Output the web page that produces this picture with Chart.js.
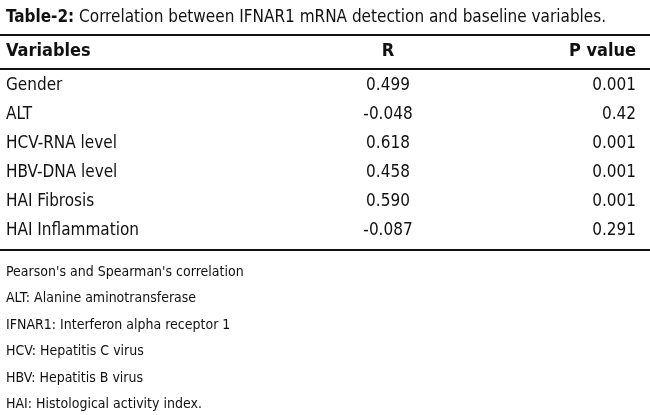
<!DOCTYPE html>
<html>
<head>
<meta charset="utf-8">
<script src="https://cdn.jsdelivr.net/npm/chart.js@4"></script>
<style>
  body { margin: 0; background: #fff; font-family: "Liberation Sans Narrow", "DejaVu Sans Condensed", sans-serif; color: #111; }
  #wrap { position: relative; width: 650px; height: 415px; }
  canvas { position: absolute; left: 0; top: 0; }
  .title { position: absolute; left: 6px; top: 6px; font-size: 17px; white-space: nowrap; }
  .notes { position: absolute; left: 6px; top: 258px; font-size: 14px; line-height: 26.4px; }
</style>
</head>
<body>
<div id="wrap">
  <canvas id="chart" width="650" height="415"></canvas>
  <div class="title"><b>Table-2:</b> Correlation between IFNAR1 mRNA detection and baseline variables.</div>
  <div class="notes">
    Pearson's and Spearman's correlation<br>
    ALT: Alanine aminotransferase<br>
    IFNAR1: Interferon alpha receptor 1<br>
    HCV: Hepatitis C virus<br>
    HBV: Hepatitis B virus<br>
    HAI: Histological activity index.
  </div>
</div>
<script>
const variables = ["Gender", "ALT", "HCV-RNA level", "HBV-DNA level", "HAI Fibrosis", "HAI Inflammation"];
const rValues = ["0.499", "-0.048", "0.618", "0.458", "0.590", "-0.087"];
const pValues = ["0.001", "0.42", "0.001", "0.001", "0.001", "0.291"];
const headers = ["Variables", "R", "P value"];

const font = '"Liberation Sans Narrow", "DejaVu Sans Condensed", sans-serif';

// Table cells drawn at the category scale's row positions
const tablePlugin = {
  id: "table",
  afterDraw(chart) {
    const { ctx } = chart;
    const y = chart.scales.y;
    ctx.save();
    ctx.fillStyle = "#111";
    ctx.textBaseline = "middle";
    ctx.font = "17px " + font;
    variables.forEach((v, i) => {
      const py = y.getPixelForValue(i);
      ctx.textAlign = "left";
      ctx.fillText(v, 6, py);
      ctx.textAlign = "center";
      ctx.fillText(rValues[i], 388, py);
      ctx.textAlign = "right";
      ctx.fillText(pValues[i], 636, py);
    });
    ctx.font = "bold 18px " + font;
    ctx.textAlign = "left";
    ctx.fillText(headers[0], 6, 51);
    ctx.textAlign = "center";
    ctx.fillText(headers[1], 388, 51);
    ctx.textAlign = "right";
    ctx.fillText(headers[2], 636, 51);
    ctx.strokeStyle = "#111";
    ctx.lineWidth = 2;
    [35, 69, 250].forEach(ly => {
      ctx.beginPath();
      ctx.moveTo(0, ly);
      ctx.lineTo(650, ly);
      ctx.stroke();
    });
    ctx.restore();
  }
};

new Chart(document.getElementById("chart"), {
  type: "bar",
  data: {
    labels: variables,
    datasets: [{ data: variables.map(() => null), backgroundColor: "transparent" }]
  },
  options: {
    responsive: false,
    animation: false,
    indexAxis: "y",
    layout: { padding: { top: 71, bottom: 170, left: 0, right: 0 } },
    plugins: { legend: { display: false }, tooltip: { enabled: false } },
    scales: {
      x: { display: false, min: 0, max: 1 },
      y: { display: false, offset: true }
    }
  },
  plugins: [tablePlugin]
});
</script>
</body>
</html>
